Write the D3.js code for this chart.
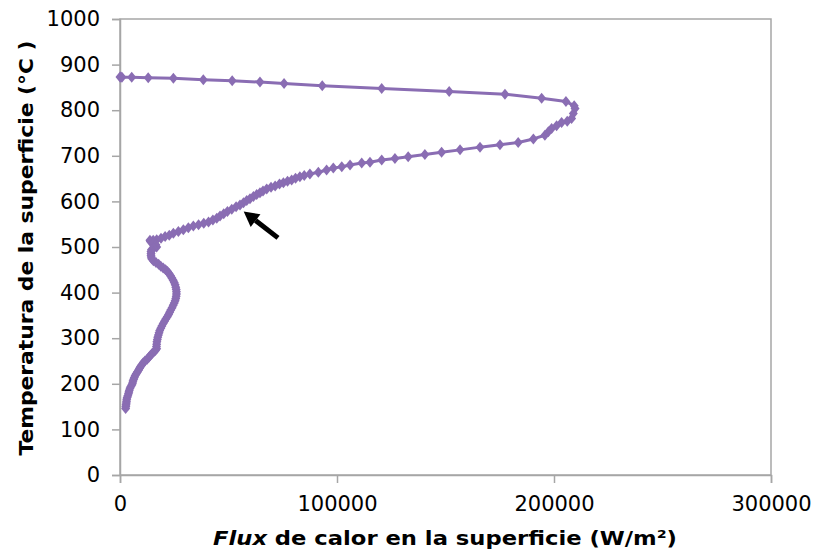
<!DOCTYPE html>
<html>
<head>
<meta charset="utf-8">
<script src="https://cdn.jsdelivr.net/npm/d3@7"></script>
<style>
  body { margin: 0; background: #fff; }
  svg { font-family: 'DejaVu Sans', Verdana, sans-serif; }
</style>
</head>
<body>
<svg id="chart"></svg>
<script>
// [flux (W/m2), surface temperature (°C)], in order of the curve
const topRun = [[0, 873], [400, 873], [900, 872.5], [5400, 872], [13000, 871], [24600, 870], [38400, 867], [51700, 864.5],
    [64500, 861.6], [75600, 858.6], [93200, 853.5], [120600, 847.6], [151700, 841], [177400, 835], [194300, 826],
    [205500, 819], [209300, 810]]

const turnRun = [[209700, 804], [208900, 793], [208100, 782], [206100, 776], [203500, 773], [201200, 766], [198900, 760],
    [197400, 753], [195800, 745], [190500, 737], [183500, 729], [175100, 724], [165900, 719], [156700, 713],
    [148200, 708], [140500, 703], [132800, 698], [126700, 694], [120600, 691], [115200, 686], [111400, 684],
    [106000, 680], [102200, 676], [98300, 673], [95200, 669], [91400, 664], [87500, 660], [84900, 657]]

const midRun = [[82900, 654], [80900, 651], [79100, 647], [77200, 644], [75300, 641], [73500, 638], [71500, 634],
    [69600, 631], [67600, 627], [65900, 623], [64500, 619], [63000, 615], [61500, 611], [59900, 606], [58400, 602],
    [56900, 597], [55300, 592], [53500, 588], [51500, 583], [49500, 578], [47800, 573], [46100, 568], [44600, 563],
    [42800, 559], [40800, 555], [38600, 552], [36200, 549], [33800, 546], [31500, 542], [29200, 538], [26900, 534],
    [24600, 530], [22700, 526], [20800, 523], [18900, 519], [16900, 516], [15300, 515], [13800, 515]]

const lowRun = [[14000, 512], [15500, 509], [16500, 505], [16900, 500], [15500, 497], [14500, 494], [14300, 490],
    [14300, 486], [14300, 482], [14400, 478], [14600, 474], [15400, 470], [16600, 466], [17800, 462], [18800, 458],
    [19900, 454], [21000, 450], [21900, 446], [22600, 442], [23300, 437], [23900, 432], [24500, 427], [25000, 422],
    [25400, 417], [25700, 412], [25900, 407], [26000, 402], [26000, 397], [25900, 392], [25700, 387], [25400, 382],
    [25000, 377], [24500, 372], [24000, 367], [23400, 362], [22900, 357], [22400, 352], [21800, 347], [21100, 342],
    [20500, 337], [19900, 332], [19300, 327], [18800, 322], [18300, 317], [18000, 312], [17700, 307], [17400, 302],
    [17200, 297], [17000, 292], [16900, 287], [16800, 282], [16900, 277], [16300, 273], [15500, 270], [14700, 266],
    [14000, 262], [13300, 258], [12500, 254], [11500, 250], [10700, 246], [10100, 242], [9500, 238], [9000, 234],
    [8600, 230], [8000, 226], [7500, 222], [7000, 218], [6600, 214], [6300, 210], [6000, 206], [5800, 202],
    [5500, 198], [5000, 194], [4600, 190], [4300, 186], [4100, 182], [3900, 178], [3600, 174], [3300, 170],
    [3100, 166], [3000, 162], [2900, 158], [2800, 154], [2700, 150], [2600, 146]]

const xTicks = [0, 100000, 200000, 300000]
const yTicks = [0, 100, 200, 300, 400, 500, 600, 700, 800, 900, 1000]

// arrow annotation in data units: tail -> tip
const arrowFrom = [72800, 520]
const arrowTo = [57000, 578]

const width = 816, height = 551
const margin = { top: 19, left: 120, right: 45, bottom: 76 }
const iwidth = width - margin.left - margin.right
const iheight = height - margin.top - margin.bottom
const purple = '#8a6db3'
const grey = '#a6a6a6'

const data = topRun.concat(turnRun, midRun, lowRun).map(([f, t]) => ({ f, t }))

const svg = d3.select('#chart').attr('width', width).attr('height', height)
const g = svg.append('g').attr('transform', `translate(${margin.left},${margin.top})`)

const x = d3.scaleLinear().domain([0, 300000]).range([0, iwidth])
const y = d3.scaleLinear().domain([0, 1000]).range([iheight, 0])

// plot area frame
g.append('rect')
    .attr('width', iwidth).attr('height', iheight)
    .attr('fill', 'none').attr('stroke', grey).attr('stroke-width', 1.5)

const yAxis = g.append('g')
    .call(d3.axisLeft(y).tickValues(yTicks).tickSize(8).tickPadding(12).tickFormat(d3.format('d')))
const xAxis = g.append('g')
    .attr('transform', `translate(0,${iheight})`)
    .call(d3.axisBottom(x).tickValues(xTicks).tickSize(8).tickPadding(13).tickFormat(d3.format('d')))

for (const ax of [xAxis, yAxis]) {
    ax.select('.domain').attr('stroke', grey).attr('stroke-width', 1.5)
    ax.selectAll('.tick line').attr('stroke', grey).attr('stroke-width', 1.5)
    ax.selectAll('.tick text').attr('fill', '#000').style('font-size', '21px')
        .style('font-family', "'DejaVu Sans', Verdana, sans-serif")
}

const line = d3.line().x((d) => x(d.f)).y((d) => y(d.t))
g.append('path')
    .datum(data)
    .attr('d', line)
    .attr('fill', 'none')
    .attr('stroke', purple)
    .attr('stroke-width', 3)
    .attr('stroke-linejoin', 'round')

// diamond marker, a bit wider than d3's own
const diamond = {
    draw(ctx) {
        ctx.moveTo(0, -5.5); ctx.lineTo(4.5, 0); ctx.lineTo(0, 5.5); ctx.lineTo(-4.5, 0); ctx.closePath()
    }
}
g.selectAll('path.pt')
    .data(data)
    .enter()
    .append('path')
    .attr('class', 'pt')
    .attr('d', d3.symbol().type(diamond))
    .attr('transform', (d) => `translate(${x(d.f)},${y(d.t)})`)
    .attr('fill', purple)

// arrow
const ax0 = x(arrowFrom[0]), ay0 = y(arrowFrom[1])
const ax1 = x(arrowTo[0]), ay1 = y(arrowTo[1])
const ang = Math.atan2(ay1 - ay0, ax1 - ax0)
const headLen = 15, headW = 8
const bx = ax1 - headLen * Math.cos(ang), by = ay1 - headLen * Math.sin(ang)
g.append('line')
    .attr('x1', ax0).attr('y1', ay0).attr('x2', bx).attr('y2', by)
    .attr('stroke', '#000').attr('stroke-width', 5)
g.append('path')
    .attr('d', `M${ax1},${ay1} L${bx + headW * Math.sin(ang)},${by - headW * Math.cos(ang)} L${bx - headW * Math.sin(ang)},${by + headW * Math.cos(ang)} Z`)
    .attr('fill', '#000')

// axis titles
const xt = svg.append('text')
    .attr('x', 445)
    .attr('y', 545)
    .attr('text-anchor', 'middle')
    .attr('textLength', 464)
    .attr('lengthAdjust', 'spacingAndGlyphs')
    .style('font-size', '20px')
    .style('font-weight', 'bold')
xt.append('tspan').style('font-style', 'italic').text('Flux')
xt.append('tspan').text(' de calor en la superficie (W/m²)')

svg.append('text')
    .attr('transform', `translate(33,${margin.top + iheight / 2 + 1}) rotate(-90)`)
    .attr('text-anchor', 'middle')
    .attr('textLength', 415)
    .attr('lengthAdjust', 'spacingAndGlyphs')
    .style('font-size', '20px')
    .style('font-weight', 'bold')
    .text('Temperatura de la superficie (°C )')
</script>
</body>
</html>
